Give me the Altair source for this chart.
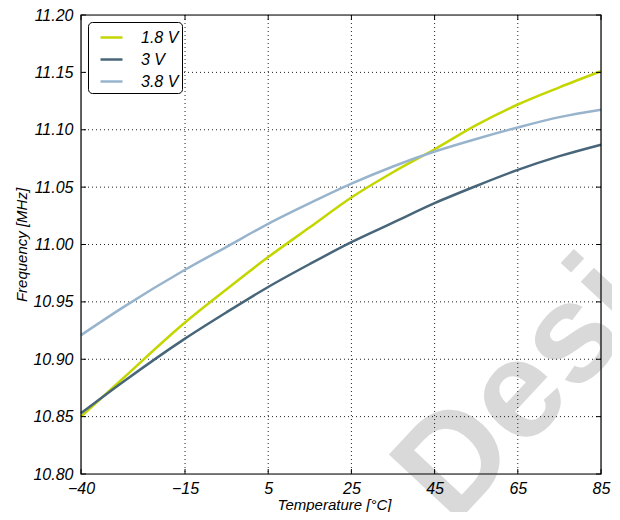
import altair as alt
import pandas as pd

# ---- data ----
temps = [-40, -30, -15, -5, 5, 15, 25, 35, 45, 55, 65, 75, 85]
f_18 = [10.850, 10.883, 10.932, 10.961, 10.989, 11.015, 11.041, 11.063, 11.083, 11.104, 11.122, 11.137, 11.151]
f_30 = [10.853, 10.880, 10.918, 10.941, 10.963, 10.983, 11.002, 11.019, 11.036, 11.051, 11.065, 11.077, 11.087]
f_38 = [10.921, 10.945, 10.978, 10.998, 11.018, 11.036, 11.053, 11.068, 11.081, 11.092, 11.102, 11.111, 11.1175]
series = ["1.8 V", "3 V", "3.8 V"]
colors = ["#c4d600", "#48667a", "#98b4cd"]

x_ticks = [-40, -15, 5, 25, 45, 65, 85]
y_ticks = [10.80, 10.85, 10.90, 10.95, 11.00, 11.05, 11.10, 11.15, 11.20]
x_grid = [-15, 5, 25, 45, 65]
y_grid = [10.85, 10.90, 10.95, 11.00, 11.05, 11.10, 11.15]
watermark = ["Design"]

W, H = 520, 459
FONT = "Liberation Sans"

rows = []
for name, vals in zip(series, [f_18, f_30, f_38]):
    for t, v in zip(temps, vals):
        rows.append({"T": t, "F": v, "series": name})
df = pd.DataFrame(rows)

xs = alt.Scale(domain=[-40, 85], nice=False, zero=False)
ys = alt.Scale(domain=[10.80, 11.20], nice=False, zero=False)

ax_x = alt.Axis(
    values=x_ticks, format="d", title="Temperature [°C]", grid=False, ticks=False, tickSize=0,
    domain=False, labelFont=FONT, labelFontStyle="italic", labelFontSize=16, labelColor="black",
    labelPadding=6, labelFlush=False, titleFont=FONT, titleFontStyle="italic", titleFontWeight="normal",
    titleFontSize=15, titleColor="black", titlePadding=1, titleX=253, titleAlign="center", zindex=1)
ax_y = alt.Axis(
    values=y_ticks, format=".2f", title="Frequency [MHz]", grid=False, ticks=False, tickSize=0,
    domain=False, labelFont=FONT, labelFontStyle="italic", labelFontSize=16, labelColor="black",
    labelPadding=8, labelFlush=False, titleFont=FONT, titleFontStyle="italic", titleFontWeight="normal",
    titleFontSize=15, titleColor="black", titlePadding=3, zindex=1)

X = lambda: alt.X("T:Q", scale=xs, axis=ax_x, title="Temperature [°C]")
Y = lambda: alt.Y("F:Q", scale=ys, axis=ax_y, title="Frequency [MHz]")

wm = alt.Chart(pd.DataFrame({"w": watermark})).mark_text(
    font=FONT, fontSize=140, fontWeight="bold", color="#d9d9d9", angle=313,
    align="left", baseline="alphabetic"
).encode(text="w:N", x=alt.value(372), y=alt.value(512))

xgrid = alt.Chart(pd.DataFrame({"T": x_grid})).mark_rule(
    color="#222222", strokeWidth=1, strokeDash=[1, 3]
).encode(x=X())

ygrid = alt.Chart(pd.DataFrame({"F": y_grid})).mark_rule(
    color="#222222", strokeWidth=1, strokeDash=[1, 3]
).encode(y=Y())

lines = alt.Chart(df).mark_line(strokeWidth=2.5, interpolate="monotone").encode(
    x=X(),
    y=Y(),
    color=alt.Color("series:N", scale=alt.Scale(domain=series, range=colors),
                    sort=series,
                    legend=alt.Legend(title=None, orient="none", legendX=7, legendY=7,
                                      strokeColor="black", fillColor="white", cornerRadius=4,
                                      padding=3, symbolType="stroke", symbolSize=484,
                                      symbolStrokeWidth=2.5, symbolOffset=8, labelOffset=17,
                                      labelFont=FONT, labelFontStyle="italic", labelFontSize=16,
                                      labelColor="black", rowPadding=1)),
)

xt_b = alt.Chart(pd.DataFrame({"T": x_ticks})).mark_rule(color="black").encode(
    x=X(), y=alt.value(H), y2=alt.value(H - 5))
xt_t = alt.Chart(pd.DataFrame({"T": x_ticks})).mark_rule(color="black").encode(
    x=X(), y=alt.value(0), y2=alt.value(5))
yt_l = alt.Chart(pd.DataFrame({"F": y_ticks})).mark_rule(color="black").encode(
    y=Y(), x=alt.value(0), x2=alt.value(5))
yt_r = alt.Chart(pd.DataFrame({"F": y_ticks})).mark_rule(color="black").encode(
    y=Y(), x=alt.value(W), x2=alt.value(W - 5))

frame = alt.Chart(pd.DataFrame({"w": watermark})).mark_rect(
    filled=False, stroke="black", strokeWidth=1.2
).encode(x=alt.value(0), x2=alt.value(W), y=alt.value(0), y2=alt.value(H))

chart = alt.layer(wm, xgrid, ygrid, lines, xt_b, xt_t, yt_l, yt_r, frame).properties(
    width=W, height=H,
    autosize=alt.AutoSizeParams(type="none"),
    padding={"left": 73, "top": 7, "right": 11, "bottom": 38},
).configure_view(stroke=None).configure(background="white")

chart.save("out.html", embed_options={"renderer": "svg", "actions": False})
